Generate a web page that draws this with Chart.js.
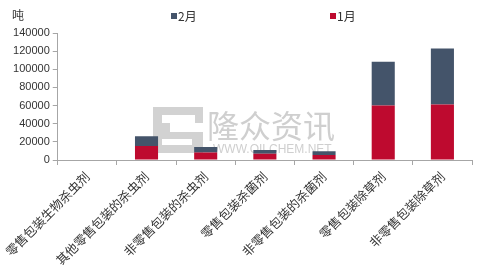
<!DOCTYPE html>
<html><head><meta charset="utf-8">
<script src="https://cdn.jsdelivr.net/npm/chart.js@4.4.1/dist/chart.umd.min.js"></script>
<style>html,body{margin:0;padding:0;background:#fff}#wrap{width:492px;height:265px}</style>
</head><body><div id="wrap"><canvas id="c"></canvas></div>
<script>
const categories = ['零售包装生物杀虫剂','其他零售包装的杀虫剂','非零售包装的杀虫剂','零售包装杀菌剂','非零售包装的杀菌剂','零售包装除草剂','非零售包装除草剂'];
const janValues = [0, 15300, 8300, 6900, 5500, 60100, 61100];
const febValues = [0, 11000, 5900, 4000, 4100, 48100, 61900];
const yTicks = [0, 20000, 40000, 60000, 80000, 100000, 120000, 140000];
const unitLabel = '吨';

const watermark = {
  id: 'watermark',
  beforeDatasetsDraw(chart) {
    const ctx = chart.ctx;
    ctx.save();
    ctx.fillStyle = '#d2d2d2';
    ctx.fillRect(153, 107, 50, 46);
    ctx.fillStyle = '#fff';
    ctx.fillRect(162, 115, 33, 8);
    ctx.fillRect(170, 123, 33, 9);
    ctx.fillRect(162, 139, 30, 6);
    ctx.fillStyle = '#cfcfcf';
    ctx.font = '32px "Noto Sans CJK SC"';
    ctx.textBaseline = 'alphabetic';
    ctx.fillText('隆众资讯', 207, 138);
    ctx.font = '12px "Liberation Sans"';
    ctx.fillText('WWW.OILCHEM.NET', 213, 153);
    ctx.restore();
  }
};
const customLegend = {
  id: 'customLegend',
  afterDraw(chart) {
    const ctx = chart.ctx;
    ctx.save();
    ctx.font = '12px "Noto Sans CJK SC"';
    ctx.textBaseline = 'middle';
    const items = [[chart.data.datasets[1], 171], [chart.data.datasets[0], 330]];
    items.forEach(([ds, x]) => {
      ctx.fillStyle = ds.backgroundColor;
      ctx.fillRect(x, 13, 6, 6);
      ctx.fillStyle = '#333';
      ctx.fillText(ds.label, x + 7, 16);
    });
    ctx.fillText(unitLabel, 12, 15);
    ctx.restore();
  }
};

new Chart(document.getElementById('c'), {
  type: 'bar',
  data: {
    labels: categories,
    datasets: [
      {label: '1月', data: janValues, backgroundColor: '#BE0A2F'},
      {label: '2月', data: febValues, backgroundColor: '#44546A'}
    ]
  },
  options: {
    responsive: true, maintainAspectRatio: false, animation: false,
    layout: {padding: {top: 33, right: 20, left: 0, bottom: 0}},
    plugins: {legend: {display: false}, tooltip: {enabled: false}},
    datasets: {bar: {barPercentage: 0.39, categoryPercentage: 1}},
    scales: {
      x: {
        stacked: true,
        grid: {display: true, drawOnChartArea: false, color: '#a6a6a6', tickLength: 5, offset: true},
        border: {color: '#a6a6a6'},
        ticks: {minRotation: 45, maxRotation: 45, autoSkip: false, color: '#333', font: {family: '"Noto Sans CJK SC"', size: 12.5}, padding: 4},
        afterFit(s) { s.height = 105; }
      },
      y: {
        stacked: true, min: 0, max: 140000,
        afterBuildTicks(s) { s.ticks = yTicks.map(v => ({value: v})); },
        grid: {display: true, drawOnChartArea: false, color: '#a6a6a6', tickLength: 5},
        border: {color: '#a6a6a6'},
        ticks: {color: '#333', font: {family: '"Liberation Sans"', size: 11}, padding: 3, callback: v => String(v)},
        afterFit(s) { s.width = 53; }
      }
    }
  },
  plugins: [watermark, customLegend]
});
</script></body></html>
